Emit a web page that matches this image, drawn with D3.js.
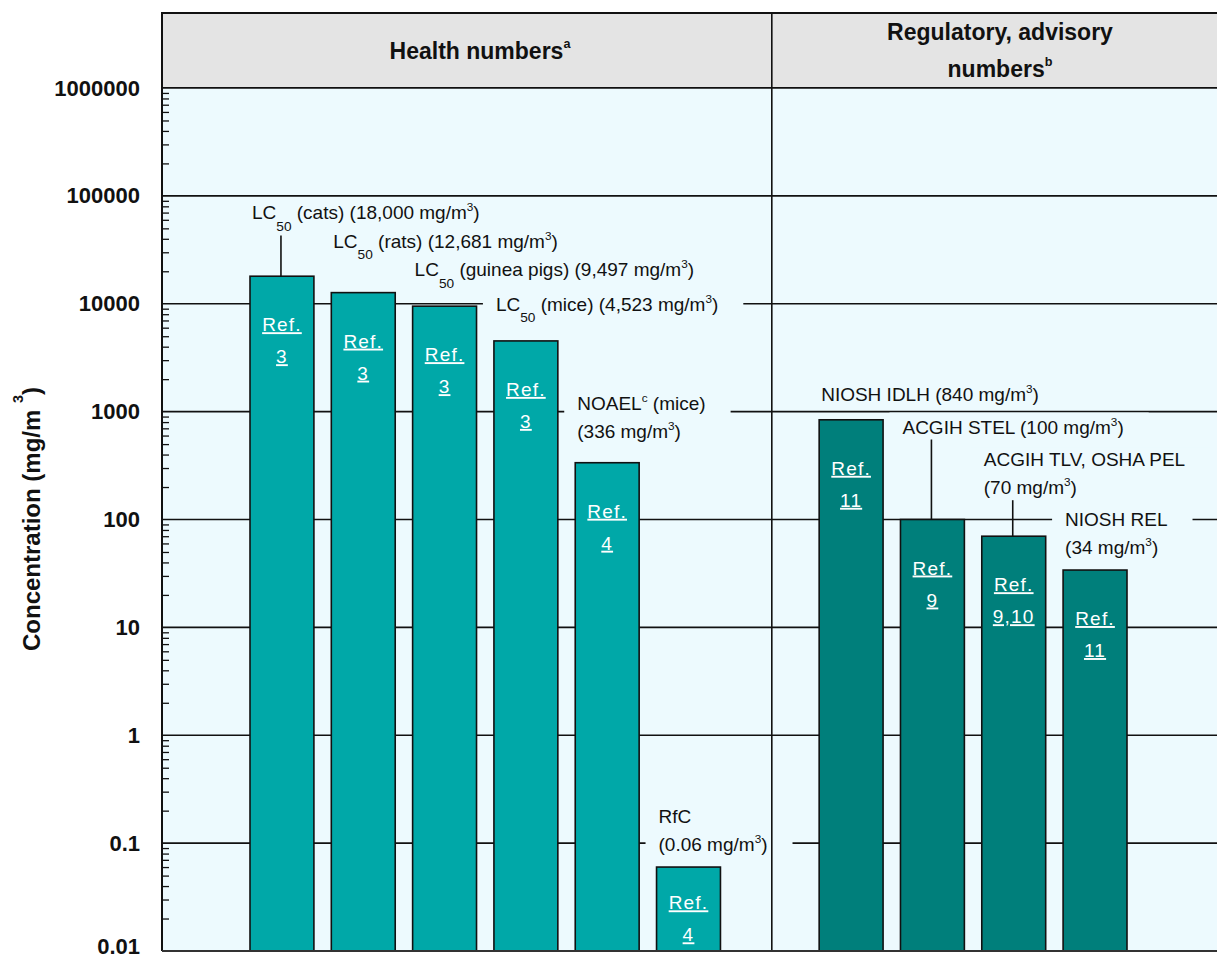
<!DOCTYPE html>
<html><head><meta charset="utf-8">
<script src="https://cdn.jsdelivr.net/npm/d3@7"></script>
<style>
html,body{margin:0;padding:0;background:#fff;}
svg{display:block;}
text{font-family:"Liberation Sans", Arial, sans-serif;}
</style></head><body>
<svg id="chart" width="1217" height="959"></svg>
<script>
// ---------------- data ----------------
const categories = ["LC_{50} (cats)", "LC_{50} (rats)", "LC_{50} (guinea pigs)", "LC_{50} (mice)", "NOAEL^{c} (mice)", "RfC", "NIOSH IDLH", "ACGIH STEL", "ACGIH TLV, OSHA PEL", "NIOSH REL"];
const values = [18000, 12681, 9497, 4523, 336, 0.06, 840, 100, 70, 34];
const groups = ["health", "health", "health", "health", "health", "health", "regulatory", "regulatory", "regulatory", "regulatory"];
const references = ["3", "3", "3", "3", "4", "4", "11", "9", "9,10", "11"];
const groupNames = ["health", "regulatory"];
const groupTitles = [["Health numbers^{a}"], ["Regulatory, advisory", "numbers^{b}"]];
const yTicks = [0.01, 0.1, 1, 10, 100, 1000, 10000, 100000, 1000000];
const yTitle = "Concentration (mg/m ^{3})";

// ---------------- annotation layout ----------------
const labelTwoLines = [false, false, false, false, true, true, false, false, true, true];
const labelLift = [57, 45, 30, 30, 25, 16, 19, 86, 42, 16];   // px from last baseline to bar top
const labelLeader = [true, false, false, false, false, false, false, true, true, false];

// ---------------- geometry ----------------
const W = 1217, H = 959;
const plotL = 162, plotR = W + 2, headTop = 13, plotTop = 88, plotBot = 951;
const barsL = 250, barsR = 1127;
const headerCenters = [480, 1000];
const colors = {health: "#00a8a8", regulatory: "#007f7b"};
const bg = "#edfafe", headBg = "#e4e4e4", ink = "#111";
const fsLab = 19;

const svg = d3.select("#chart");

const slots = [];
groupNames.forEach((g, gi) => {
  if (gi > 0) slots.push("__gap" + gi);
  categories.forEach((c, i) => { if (groups[i] === g) slots.push(c); });
});
const x = d3.scaleBand().domain(slots).range([barsL, barsR]).paddingInner(0.214).paddingOuter(0);
const y = d3.scaleLog().domain([0.01, 1e6]).range([plotBot, plotTop]);
const dividerX = x("__gap1") + x.bandwidth() / 2 + 2;

function rich(sel, str, size, opts) {
  opts = opts || {};
  const parts = str.split(/(_\{[^}]*\}|\^\{[^}]*\})/).filter(s => s !== "");
  let shift = 0;
  parts.forEach(p => {
    let target = 0, txt = p, fs = size;
    if (p.startsWith("_{")) { target = size * 0.6; txt = p.slice(2, -1); fs = size * 0.72; }
    else if (p.startsWith("^{")) { target = -size * (opts.supShift || 0.42); txt = p.slice(2, -1); fs = size * (opts.supSize || 0.62); }
    sel.append("tspan").attr("dy", target - shift).attr("font-size", fs).text(txt);
    shift = target;
  });
}

// header
svg.append("rect").attr("x", plotL).attr("y", headTop).attr("width", plotR - plotL).attr("height", plotTop - headTop)
  .attr("fill", headBg).attr("stroke", ink).attr("stroke-width", 2);
// plot background
svg.append("rect").attr("x", plotL).attr("y", plotTop).attr("width", plotR - plotL).attr("height", plotBot - plotTop)
  .attr("fill", bg);

const gGrid = svg.append("g"), gBoxes = svg.append("g"), gBars = svg.append("g"),
      gLead = svg.append("g"), gLab = svg.append("g"), gTop = svg.append("g");

// gridlines
gGrid.selectAll("line").data(yTicks.slice(1)).join("line")
  .attr("x1", plotL).attr("x2", plotR).attr("y1", d => y(d)).attr("y2", d => y(d))
  .attr("stroke", ink).attr("stroke-width", 1.6);

// bars
const data = categories.map((c, i) => ({c, v: values[i], g: groups[i], ref: references[i], i}));
gBars.selectAll("rect").data(data).join("rect")
  .attr("x", d => x(d.c)).attr("width", x.bandwidth())
  .attr("y", d => y(d.v)).attr("height", d => plotBot - y(d.v))
  .attr("fill", d => colors[d.g]).attr("stroke", ink).attr("stroke-width", 1.6);

// Ref. text inside bars
data.forEach(d => {
  const top = y(d.v), h = plotBot - top;
  const off = Math.min(48, h * 0.42);
  const cx = x(d.c) + x.bandwidth() / 2;
  [["Ref.", off + 7], [d.ref, off + 39]].forEach(([t, dy]) => {
    gBars.append("text").attr("x", cx).attr("y", top + dy).attr("text-anchor", "middle")
      .attr("font-size", 19).attr("letter-spacing", 1.2).attr("fill", "#fff")
      .attr("text-decoration", "underline").text(t);
  });
});

// annotation labels
const fmt = v => v >= 1000 ? d3.format(",")(v) : String(v);
data.forEach(d => {
  const i = d.i;
  const val = "(" + fmt(d.v) + " mg/m^{3})";
  const lines = labelTwoLines[i] ? [d.c, val] : [d.c + " " + val];
  const top = y(d.v);
  const lastBase = top - labelLift[i];
  const lx = x(d.c) + 2;
  const g = gLab.append("g");
  lines.forEach((ln, k) => {
    const t = g.append("text").attr("x", lx).attr("y", lastBase - (lines.length - 1 - k) * 28)
      .attr("font-size", fsLab).attr("fill", ink);
    rich(t, ln, fsLab);
  });
  const bb = g.node().getBBox();
  gBoxes.append("rect").attr("x", bb.x - 13).attr("y", bb.y - 2).attr("width", bb.width + 38).attr("height", bb.height + 4)
    .attr("fill", bg);
  if (labelLeader[i]) {
    const cx = x(d.c) + x.bandwidth() / 2 - 1;
    gLead.append("line").attr("x1", cx).attr("x2", cx).attr("y1", bb.y + bb.height + 2).attr("y2", top)
      .attr("stroke", ink).attr("stroke-width", 1.6);
  }
});

// divider
gTop.append("line").attr("x1", dividerX).attr("x2", dividerX).attr("y1", headTop).attr("y2", plotBot)
  .attr("stroke", ink).attr("stroke-width", 1.6);

// header titles
groupTitles.forEach((lines, gi) => {
  const n = lines.length;
  lines.forEach((ln, k) => {
    const ty = n === 1 ? 59 : 40 + k * 37;
    const t = gTop.append("text").attr("x", headerCenters[gi]).attr("y", ty).attr("text-anchor", "middle")
      .attr("font-size", 23).attr("font-weight", "bold").attr("fill", ink);
    rich(t, ln, 23, {supShift: 0.5, supSize: 0.55});
  });
});

// y axis: minor ticks inside
const minor = [];
for (let e = -2; e < 6; e++) for (let m = 2; m <= 9; m++) minor.push(m * Math.pow(10, e));
const axisMinor = d3.axisRight(y).tickValues(minor).tickSize(7).tickFormat("");
const ga = gTop.append("g").attr("transform", `translate(${plotL},0)`).call(axisMinor);
ga.select(".domain").remove();
ga.selectAll(".tick line").attr("stroke", ink).attr("stroke-width", 1.3);

const axisMajor = d3.axisLeft(y).tickValues(yTicks).tickSize(0).tickPadding(22).tickFormat(d => String(d));
const gm = gTop.append("g").attr("transform", `translate(${plotL},0)`).call(axisMajor);
gm.select(".domain").remove();
gm.selectAll(".tick text").attr("font-size", 22).attr("font-weight", "bold").attr("fill", ink)
  .attr("font-family", '"Liberation Sans", Arial, sans-serif')
  .attr("dy", d => d === yTicks[0] ? "0.12em" : "0.32em");

gTop.append("line").attr("x1", plotL).attr("x2", plotL).attr("y1", headTop).attr("y2", plotBot)
  .attr("stroke", ink).attr("stroke-width", 2);
gTop.append("line").attr("x1", plotL).attr("x2", plotR).attr("y1", plotBot).attr("y2", plotBot)
  .attr("stroke", "#333").attr("stroke-width", 2);

// y title
const yt = gTop.append("text").attr("transform", `translate(31,519) rotate(-90)`).attr("text-anchor", "middle")
  .attr("font-size", 24).attr("font-weight", "bold").attr("fill", ink).attr("dominant-baseline", "central");
rich(yt, yTitle, 24, {supShift: 0.55, supSize: 0.6});
</script>
</body></html>
